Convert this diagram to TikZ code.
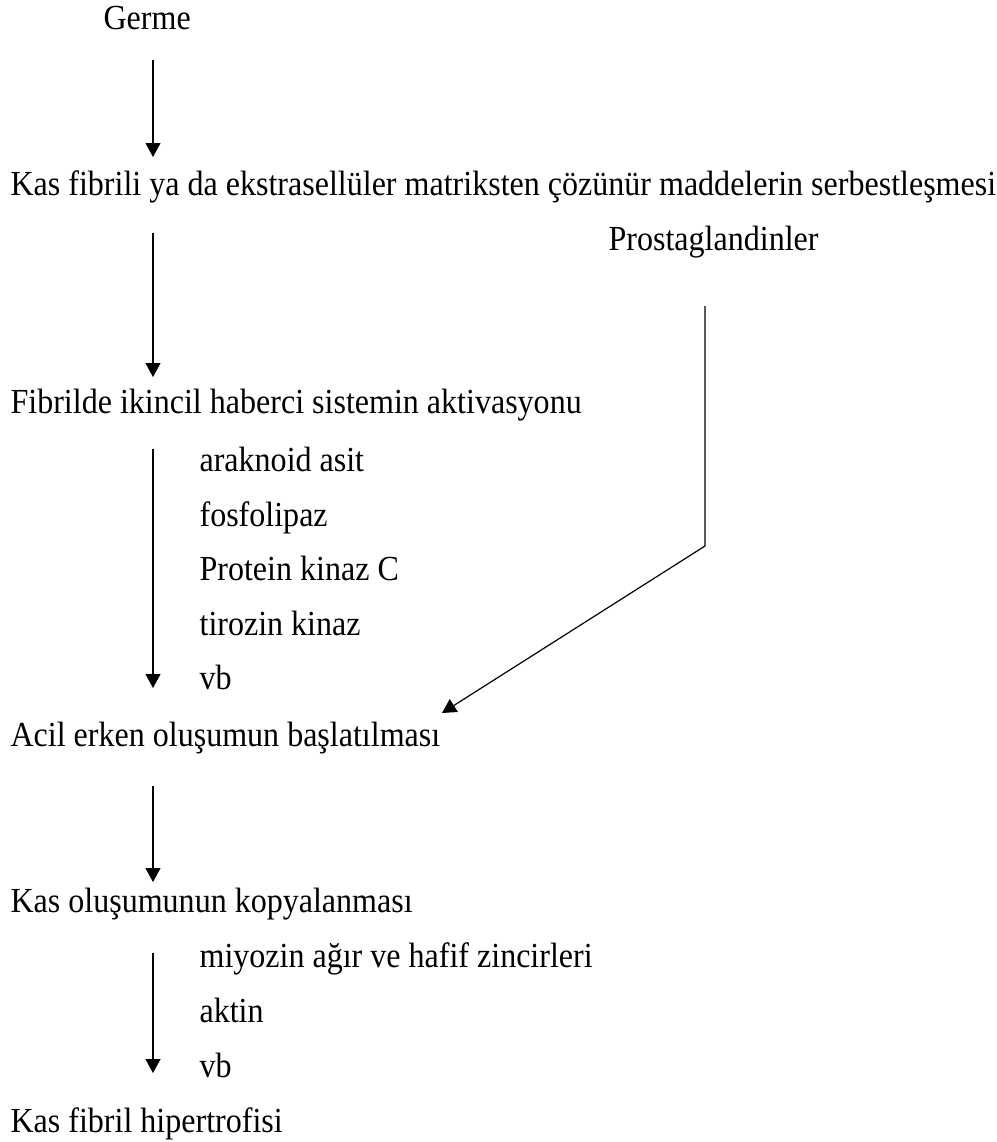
\documentclass[tikz,border=0pt]{standalone}
\usepackage{fontspec}
\setmainfont{Liberation Serif}[FakeStretch=0.91]
\usepackage{tikz}
\usetikzlibrary{arrows.meta}

\begin{document}
\begin{tikzpicture}[x=0.5pt,y=-0.5pt,>={Triangle[width=7.5pt,length=7pt]},line width=0.6pt]
	\tikzstyle{every node}=[inner sep=0pt,anchor=base west,font=\fontsize{17.6}{20}\selectfont]
	\tikzstyle{flow}=[->]
	\useasboundingbox (0,0) rectangle (997,1142);
	% main steps
	\node (germe)  at (103,29)   {Germe};
	\node (serb)   at (10,195)   {Kas fibrili ya da ekstrasellüler matriksten çözünür maddelerin serbestleşmesi};
	\node (prost)  at (608,250)  {Prostaglandinler};
	\node (ikinci) at (10,413)   {Fibrilde ikincil haberci sistemin aktivasyonu};
	\node (acil)   at (10,746)   {Acil erken oluşumun başlatılması};
	\node (kopya)  at (10,912)   {Kas oluşumunun kopyalanması};
	\node (hiper)  at (10,1132)  {Kas fibril hipertrofisi};
	% side lists
	\node (arak)   at (199,471)  {araknoid asit};
	\node (fosfo)  at (199,526)  {fosfolipaz};
	\node (pkc)    at (199,580)  {Protein kinaz C};
	\node (tiro)   at (199,635)  {tirozin kinaz};
	\node (vba)    at (199,689)  {vb};
	\node (miyo)   at (199,967)  {miyozin ağır ve hafif zincirleri};
	\node (aktin)  at (199,1022) {aktin};
	\node (vbb)    at (199,1077) {vb};
	% helper points
	\coordinate (spine) at (153,0);
	\coordinate (knee)  at (705,546);
	\coordinate (ptip)  at (442,713);
	% arrows
	\draw[flow,shorten <=15.5pt,shorten >=19pt]   (germe.base -| spine)  -- (serb.base -| spine);
	\draw[flow,shorten <=19pt,shorten >=18pt]   (serb.base -| spine)   -- (ikinci.base -| spine);
	\draw[flow,shorten <=18pt,shorten >=29pt]   (ikinci.base -| spine) -- (acil.base -| spine);
	\draw[flow,shorten <=20pt,shorten >=15pt]   (acil.base -| spine)   -- (kopya.base -| spine);
	\draw[flow,shorten <=20.5pt,shorten >=29.5pt] (kopya.base -| spine) -- (hiper.base -| spine);
	\draw[flow,shorten <=28pt] (prost.base -| knee) -- (knee) -- (ptip);
\end{tikzpicture}
\end{document}
